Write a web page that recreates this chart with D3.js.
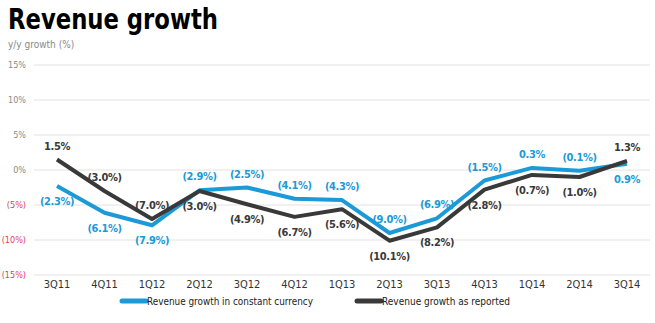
<!DOCTYPE html>
<html>
<head>
<meta charset="utf-8">
<script src="https://cdn.jsdelivr.net/npm/d3@7"></script>
<style>
  body { margin: 0; background: #fff; }
  svg { display: block; }
  .lbl { font-family: "DejaVu Sans Condensed", sans-serif; font-weight: bold; font-size: 11px; letter-spacing: -0.4px; }
  .tick-y { font-family: "DejaVu Sans Condensed", sans-serif; font-size: 9px; }
  .tick-x { font-family: "DejaVu Sans Condensed", sans-serif; font-size: 11px; fill: #333; }
</style>
</head>
<body>
<svg id="chart"></svg>
<script>
const quarters = ["3Q11","4Q11","1Q12","2Q12","3Q12","4Q12","1Q13","2Q13","3Q13","4Q13","1Q14","2Q14","3Q14"];
const constantCurrency = [-2.3, -6.1, -7.9, -2.9, -2.5, -4.1, -4.3, -9.0, -6.9, -1.5, 0.3, -0.1, 0.9];
const asReported = [1.5, -3.0, -7.0, -3.0, -4.9, -6.7, -5.6, -10.1, -8.2, -2.8, -0.7, -1.0, 1.3];
// label placement: 1 = above the point, -1 = below
const constantPos = [-1, -1, -1, 1, 1, 1, 1, 1, 1, 1, 1, 1, -1];
const reportedPos = [1, 1, 1, -1, -1, -1, -1, -1, -1, -1, -1, -1, 1];
const yTicks = [15, 10, 5, 0, -5, -10, -15];

const width = 655, height = 323;
const blue = "#1b9ad7", dark = "#393939";

const fmt = v => v < 0 ? `(${Math.abs(v).toFixed(1)}%)` : `${v.toFixed(1)}%`;

const svg = d3.select("#chart").attr("width", width).attr("height", height);

const x = d3.scalePoint().domain(quarters).range([57, 627]);
const y = d3.scaleLinear().domain([-15, 15]).range([275, 65]);

svg.append("text")
    .attr("x", 8).attr("y", 29)
    .attr("textLength", 210).attr("lengthAdjust", "spacingAndGlyphs")
    .style("font-family", "'DejaVu Sans Condensed', sans-serif")
    .style("font-weight", "bold").style("font-size", "28px").attr("fill", "#000")
    .text("Revenue growth");

svg.append("text")
    .attr("x", 8).attr("y", 48)
    .style("font-family", "'DejaVu Sans Condensed', sans-serif")
    .style("font-size", "10px").attr("fill", "#888")
    .text("y/y growth (%)");

// grid
svg.selectAll(".grid")
    .data(yTicks)
    .enter().append("line")
    .attr("x1", 34).attr("x2", 650)
    .attr("y1", d => y(d)).attr("y2", d => y(d))
    .attr("stroke", "#e2e2e2").attr("stroke-width", 1);

svg.selectAll(".tick-y")
    .data(yTicks)
    .enter().append("text")
    .attr("class", "tick-y")
    .attr("x", 26).attr("y", d => y(d) + 3)
    .attr("text-anchor", "end")
    .attr("fill", d => d < 0 ? "#e0405c" : "#8a8a8a")
    .text(d => d < 0 ? `(${Math.abs(d)}%)` : `${d}%`);

svg.selectAll(".tick-x")
    .data(quarters)
    .enter().append("text")
    .attr("class", "tick-x")
    .attr("x", d => x(d)).attr("y", 288)
    .attr("text-anchor", "middle")
    .text(d => d);

const line = d3.line()
    .x((d, i) => x(quarters[i]))
    .y(d => y(d));

svg.append("path").datum(constantCurrency)
    .attr("d", line).attr("fill", "none")
    .attr("stroke", blue).attr("stroke-width", 4).attr("stroke-linejoin", "round");

svg.append("path").datum(asReported)
    .attr("d", line).attr("fill", "none")
    .attr("stroke", dark).attr("stroke-width", 4).attr("stroke-linejoin", "round");

function labels(data, pos, color) {
    svg.append("g").selectAll("text")
        .data(data)
        .enter().append("text")
        .attr("class", "lbl")
        .attr("x", (d, i) => x(quarters[i]))
        .attr("y", (d, i) => y(d) + (pos[i] > 0 ? -10 : 19))
        .attr("text-anchor", "middle")
        .attr("fill", color)
        .text(d => fmt(d));
}
labels(constantCurrency, constantPos, blue);
labels(asReported, reportedPos, dark);

// legend
const legend = [
    {name: "Revenue growth in constant currency", color: blue, x: 122, w: 166},
    {name: "Revenue growth as reported", color: dark, x: 357, w: 128}
];
const lg = svg.selectAll(".legend").data(legend).enter().append("g");
lg.append("line")
    .attr("x1", d => d.x).attr("x2", d => d.x + 24)
    .attr("y1", 301).attr("y2", 301)
    .attr("stroke", d => d.color).attr("stroke-width", 5).attr("stroke-linecap", "round");
lg.append("text")
    .attr("x", d => d.x + 25).attr("y", 305)
    .attr("textLength", d => d.w).attr("lengthAdjust", "spacingAndGlyphs")
    .style("font-family", "'DejaVu Sans Condensed', sans-serif")
    .style("font-size", "11px").attr("fill", "#222")
    .text(d => d.name);
</script>
</body>
</html>
